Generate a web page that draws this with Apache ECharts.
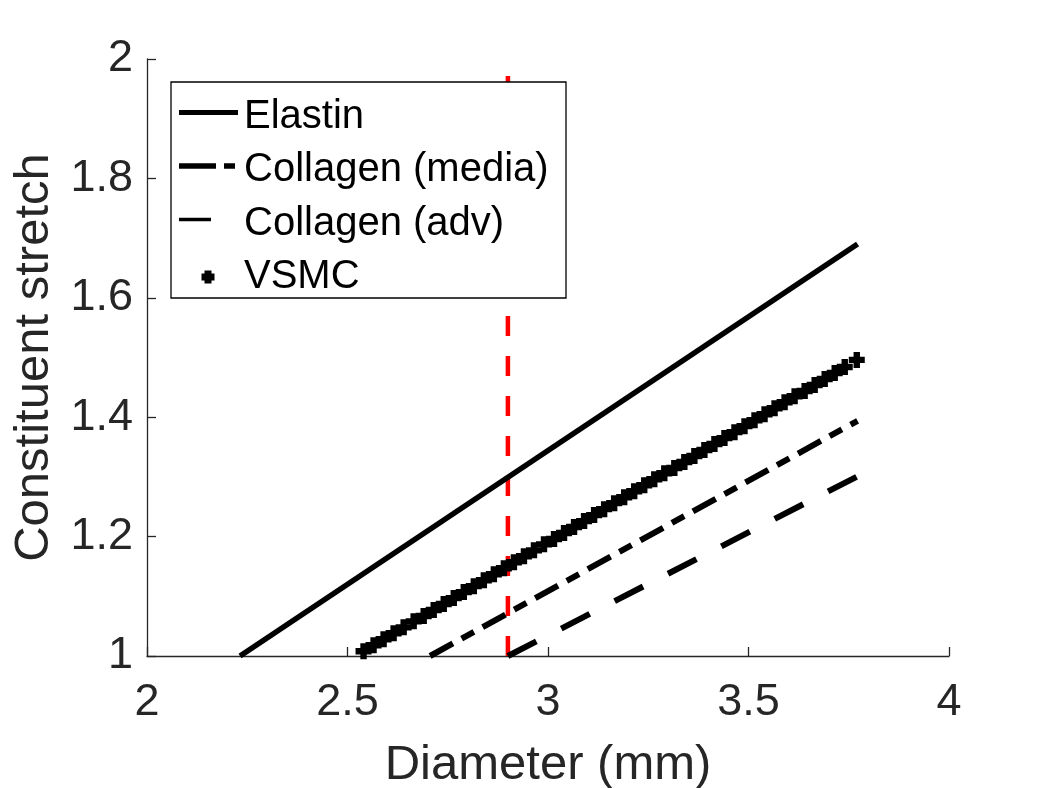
<!DOCTYPE html>
<html>
<head>
<meta charset="utf-8">
<script src="https://cdn.jsdelivr.net/npm/echarts@6/dist/echarts.min.js"></script>
<style>html,body{margin:0;padding:0;background:#fff;}#c{width:1050px;height:788px;}</style>
</head>
<body>
<div id="c"></div>
<script>
// ---- data ----
const seriesNames = ['Elastin', 'Collagen (media)', 'Collagen (adv)', 'VSMC'];
const xTicks = [2, 2.5, 3, 3.5, 4];
const yTicks = [1, 1.2, 1.4, 1.6, 1.8, 2];

const elastinX = [2.232, 3.772];
const elastinY = [1.000, 1.690];

const mediaX = [2.706, 3.772];
const mediaY = [1.000, 1.394];

const advX = [2.900, 3.772];
const advY = [1.000, 1.301];

const vsmcX = [2.540, 2.565, 2.590, 2.615, 2.640, 2.665, 2.690, 2.715, 2.740, 2.765,
               2.790, 2.815, 2.840, 2.865, 2.890, 2.915, 2.940, 2.965, 2.990, 3.015,
               3.040, 3.065, 3.090, 3.115, 3.140, 3.165, 3.190, 3.215, 3.240, 3.265,
               3.290, 3.315, 3.340, 3.365, 3.390, 3.415, 3.440, 3.465, 3.490, 3.515,
               3.540, 3.565, 3.590, 3.615, 3.640, 3.665, 3.690, 3.715, 3.740, 3.770];
const vsmcY = [1.008, 1.018, 1.028, 1.038, 1.048, 1.058, 1.067, 1.077, 1.087, 1.097,
               1.107, 1.117, 1.127, 1.137, 1.147, 1.157, 1.167, 1.177, 1.187, 1.196,
               1.206, 1.216, 1.226, 1.236, 1.246, 1.256, 1.266, 1.276, 1.286, 1.296,
               1.306, 1.315, 1.325, 1.335, 1.345, 1.355, 1.365, 1.375, 1.385, 1.395,
               1.405, 1.415, 1.425, 1.435, 1.444, 1.454, 1.464, 1.474, 1.484, 1.496];

const refLineX = [2.9, 2.9];
const refLineY = [1, 2];

// ---- chart ----
const zip = (xs, ys) => xs.map((x, i) => [x, ys[i]]);
const FONT = '"Liberation Sans", Arial, Helvetica, sans-serif';
const AX = '#262626';
const fmt = v => String(+(+v).toFixed(1));

const chart = echarts.init(document.getElementById('c'), null, {renderer: 'canvas'});

// legend geometry (layout only)
const LX = 171, LY = 82, LW = 395, LH = 216;
const rowY = [116.5, 170, 223.5, 277];
const textX = 244;
const plusPts = (cx, cy, h, a) => [
  [cx - a, cy - h], [cx + a, cy - h], [cx + a, cy - a], [cx + h, cy - a], [cx + h, cy + a],
  [cx + a, cy + a], [cx + a, cy + h], [cx - a, cy + h], [cx - a, cy + a], [cx - h, cy + a],
  [cx - h, cy - a], [cx - a, cy - a]
];

const legendGraphics = [
  {type: 'rect', z: 100, shape: {x: LX, y: LY, width: LW, height: LH},
   style: {fill: '#ffffff', stroke: '#000000', lineWidth: 1.3}},
  {type: 'line', z: 101, shape: {x1: 179, y1: rowY[0] - 4, x2: 238, y2: rowY[0] - 4},
   style: {stroke: '#000', lineWidth: 5}},
  {type: 'line', z: 101, shape: {x1: 179, y1: rowY[1] - 4, x2: 216, y2: rowY[1] - 4},
   style: {stroke: '#000', lineWidth: 5.5}},
  {type: 'line', z: 101, shape: {x1: 224, y1: rowY[1] - 4, x2: 235, y2: rowY[1] - 4},
   style: {stroke: '#000', lineWidth: 5.5}},
  {type: 'line', z: 101, shape: {x1: 179, y1: rowY[2] - 4, x2: 211, y2: rowY[2] - 4},
   style: {stroke: '#000', lineWidth: 3.5}},
  {type: 'polygon', z: 101, shape: {points: plusPts(208, rowY[3], 6.5, 3.5)},
   style: {fill: '#000'}}
].concat(seriesNames.map((n, i) => ({
  type: 'text', z: 101, x: textX, y: rowY[i],
  style: {text: n, fill: '#000', font: '40px ' + FONT, verticalAlign: 'middle', align: 'left'}
})));

const plusPath = 'path://M3,0H7V3H10V7H7V10H3V7H0V3H3Z';

chart.setOption({
  animation: false,
  backgroundColor: '#ffffff',
  grid: {left: 147, top: 59, width: 802, height: 597, containLabel: false, outerBoundsMode: 'none'},
  xAxis: {
    type: 'value', min: xTicks[0], max: xTicks[xTicks.length - 1], interval: 0.5,
    name: 'Diameter (mm)', nameLocation: 'middle', nameGap: 85,
    nameTextStyle: {fontFamily: FONT, fontSize: 49, color: AX},
    axisLine: {onZero: false, lineStyle: {color: AX, width: 1.3}},
    axisTick: {inside: true, length: 9, lineStyle: {color: AX, width: 1.3}},
    axisLabel: {margin: 24, fontFamily: FONT, fontSize: 45, color: AX, formatter: fmt},
    splitLine: {show: false}
  },
  yAxis: {
    type: 'value', min: yTicks[0], max: yTicks[yTicks.length - 1], interval: 0.2,
    name: 'Constituent stretch', nameLocation: 'middle', nameGap: 88, nameRotate: 90,
    nameTextStyle: {fontFamily: FONT, fontSize: 49, color: AX},
    axisLine: {onZero: false, lineStyle: {color: AX, width: 1.3}},
    axisTick: {inside: true, length: 9, lineStyle: {color: AX, width: 1.3}},
    axisLabel: {margin: 14, fontFamily: FONT, fontSize: 45, color: AX, formatter: fmt},
    splitLine: {show: false}
  },
  graphic: legendGraphics,
  series: [
    {name: 'ref', type: 'line', data: zip(refLineX, refLineY), showSymbol: false, silent: true,
     lineStyle: {color: '#ff0000', width: 4.5, type: [20, 20]}, z: 1},
    {name: seriesNames[0], type: 'line', data: zip(elastinX, elastinY), showSymbol: false,
     lineStyle: {color: '#000', width: 5.5, type: 'solid'}, z: 3},
    {name: seriesNames[1], type: 'line', data: zip(mediaX, mediaY), showSymbol: false,
     lineStyle: {color: '#000', width: 6, type: [26, 10, 14, 10]}, z: 3},
    {name: seriesNames[2], type: 'line', data: zip(advX, advY), showSymbol: false,
     lineStyle: {color: '#000', width: 6, type: [32, 28]}, z: 3},
    {name: seriesNames[3], type: 'scatter', data: zip(vsmcX, vsmcY), symbol: plusPath,
     symbolSize: 16, itemStyle: {color: '#000', opacity: 1}, z: 3}
  ]
});
</script>
</body>
</html>
